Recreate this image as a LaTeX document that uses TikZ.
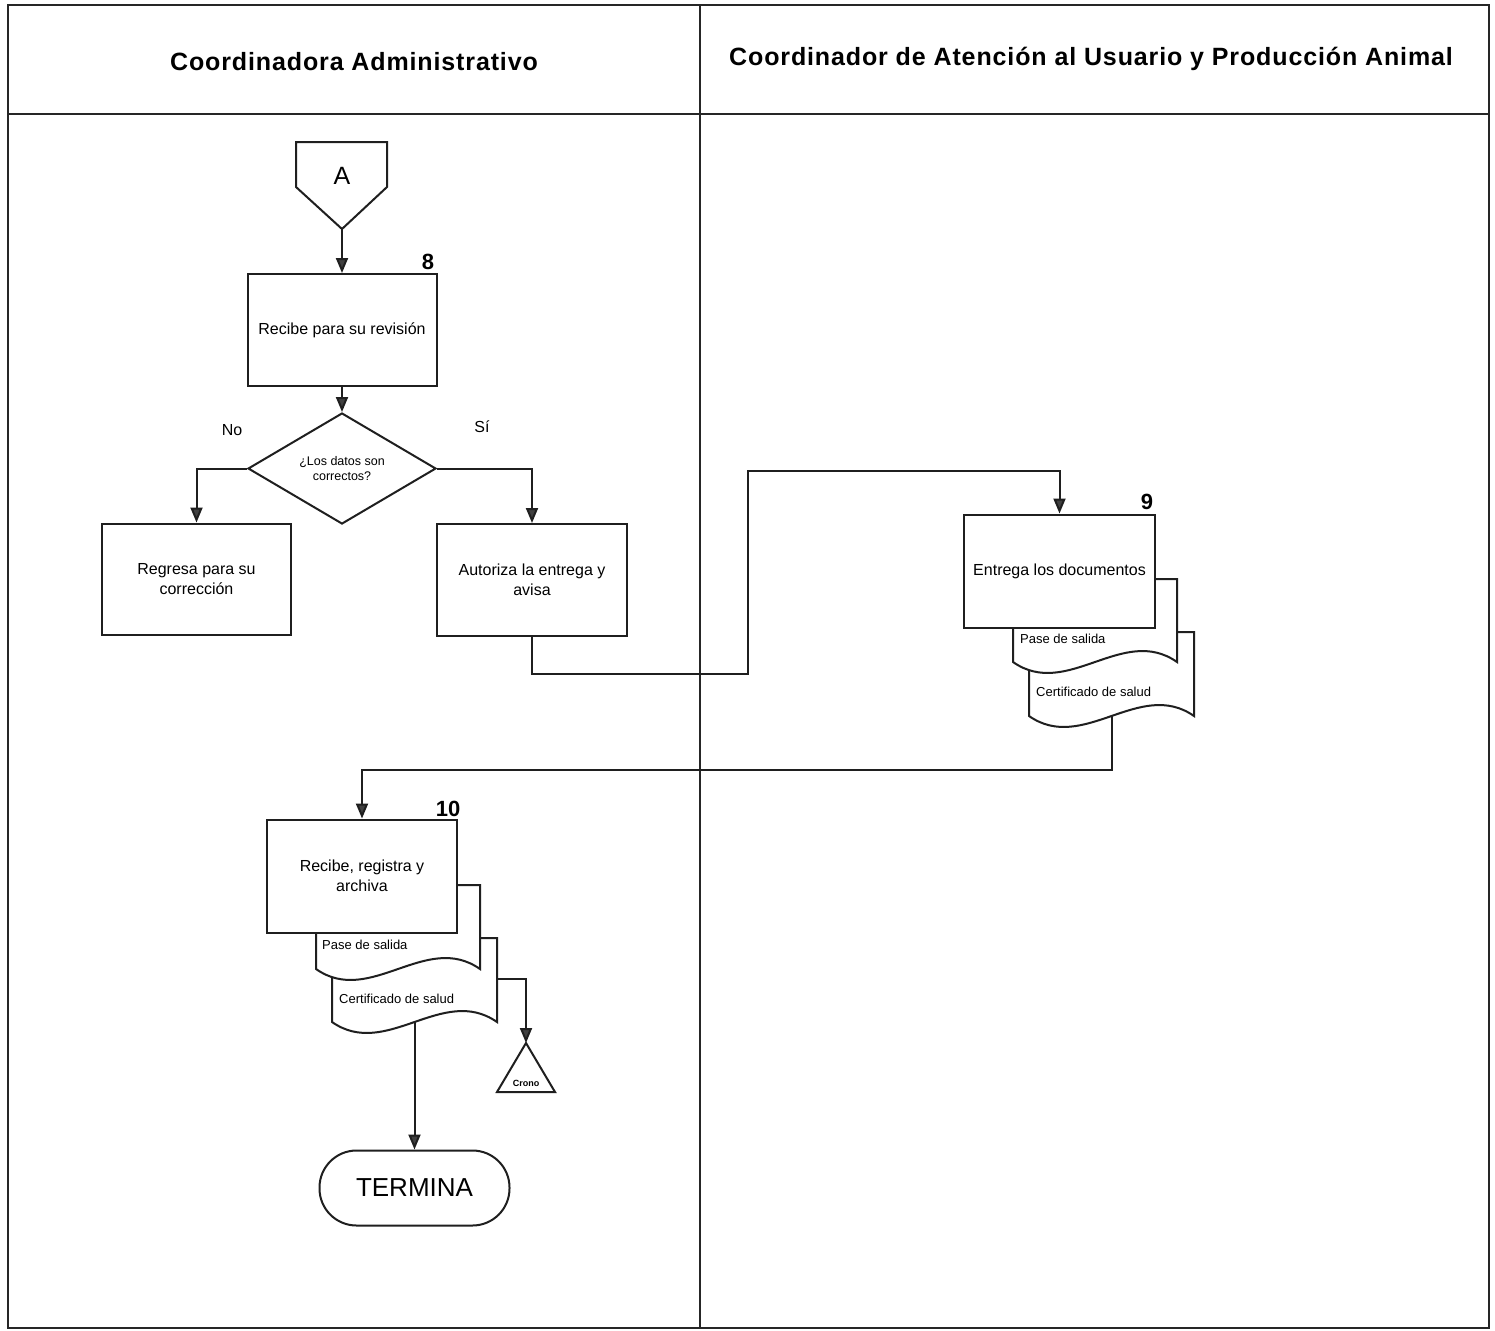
\documentclass[tikz,border=0pt]{standalone}
\usepackage{fontspec}
\setmainfont{Liberation Sans}
\usetikzlibrary{arrows.meta,shapes.geometric,calc}
\newcommand\docshape[4]{%
  \pgfmathsetmacro\dw{#3-#1}%
  \draw[ln,fill=white] (#1,#2) -- (#3,#2) -- (#3,#4)
    .. controls ({#3-0.33*\dw},{#4-38}) and ({#1+0.33*\dw},{#4+38}) .. (#1,#4) -- cycle;}
\begin{document}
\begin{tikzpicture}[x=1pt,y=-1pt,
  ln/.style={line width=2pt,draw=black!88},
  frame/.style={line width=2.6pt,draw=black!85},
  box/.style={ln,rectangle,fill=white,inner sep=0pt,align=center,
    font=\fontsize{16}{19.5}\selectfont},
  arr/.style={line width=2pt,draw=black!88,
    -{Triangle[length=15pt,width=12pt,fill=black!75]}},
  hdr/.style={font=\fontsize{25}{30}\selectfont\bfseries\addfontfeatures{LetterSpace=3.5}},
  num/.style={font=\fontsize{22}{26}\selectfont\bfseries,inner sep=0pt},
  doctxt/.style={anchor=west,inner sep=0pt,font=\fontsize{13}{16}\selectfont},
  lbl/.style={inner sep=0pt,font=\fontsize{16}{19}\selectfont}]
\useasboundingbox[fill=white] (0,0) rectangle (1495,1330);
% lanes
\draw[frame] (8,5) rectangle (1489,1328);
\draw[frame] (8,114) -- (1489,114);
\draw[frame] (700,5) -- (700,1328);
\node[hdr] (h1) at (354,62) {Coordinadora Administrativo};
\node[hdr] (h2) at (1091,59) {Coordinador de Atención al Usuario y Producción Animal};
% connector A
\draw[ln] (296,142) -- (387,142) -- (387,187) -- (342,229) -- (296,187) -- cycle;
\node[font=\fontsize{25}{30}\selectfont] (Alab) at (342,176) {A};
\coordinate (Abot) at (342,229);
% step 8
\node[box,minimum width=189pt,minimum height=112pt] (b8) at (342,330) {Recibe para su revisión};
\node[num] (n8) at (428,262) {8};
\node[ln,shape=diamond,aspect=1.69,inner sep=0pt,minimum width=188pt,minimum height=111pt,
  align=center,font=\fontsize{12.5}{15.5}\selectfont] (dec) at (342,468.5) {¿Los datos son\\correctos?};
\node[lbl] (no) at (232,430) {No};
\node[lbl] (si) at (482,427) {Sí};
\node[box,minimum width=189pt,minimum height=111pt] (reg) at (196.5,579) {Regresa para su\\corrección};
\node[box,minimum width=190pt,minimum height=112pt] (aut) at (532,580) {Autoriza la entrega y\\avisa};
% step 9
\docshape{1029}{632}{1194}{716}
\docshape{1013}{579}{1177}{662}
\node[box,minimum width=191pt,minimum height=113pt] (b9) at (1059.5,571) {Entrega los documentos};
\node[num] (n9) at (1147,502) {9};
\node[doctxt] (p9) at (1020,639) {Pase de salida};
\node[doctxt] (c9) at (1036,692) {Certificado de salud};
\coordinate (d9b) at (1111.5,716);
% step 10
\docshape{332}{938}{497}{1022}
\docshape{316}{885}{480}{969}
\node[box,minimum width=190pt,minimum height=113pt] (b10) at (362,876) {Recibe, registra y\\archiva};
\node[num] (n10) at (448,809) {10};
\node[doctxt] (p10) at (322,945) {Pase de salida};
\node[doctxt] (c10) at (339,999) {Certificado de salud};
\coordinate (d10b) at (414.5,1022);
\coordinate (d10r) at (497,979);
% crono
\draw[ln,fill=white] (526,1043) -- (555,1092) -- (497,1092) -- cycle;
\coordinate (cronoTop) at (526,1043);
\node[inner sep=0pt,font=\fontsize{9}{11}\selectfont\bfseries] (crono) at (526,1083) {Crono};
% terminator
\node[ln,rectangle,rounded corners=37pt,minimum width=190pt,minimum height=75pt,inner sep=0pt,
  font=\fontsize{26}{30}\selectfont] (term) at (414.5,1188) {TERMINA};
% connectors
\draw[arr] (Abot) -- (b8.north);
\draw[arr] (b8.south) -- (dec.north);
\draw[arr] (dec.west) -| (reg.north);
\draw[arr] (dec.east) -| (aut.north);
\draw[arr] (aut.south) -- ++(0,37) -| (748,471) -| (b9.north);
\draw[arr] (d9b) -- ++(0,54) -| (b10.north);
\draw[arr] (d10r) -| (cronoTop);
\draw[arr] (d10b) -- (term.north);
\end{tikzpicture}
\end{document}
